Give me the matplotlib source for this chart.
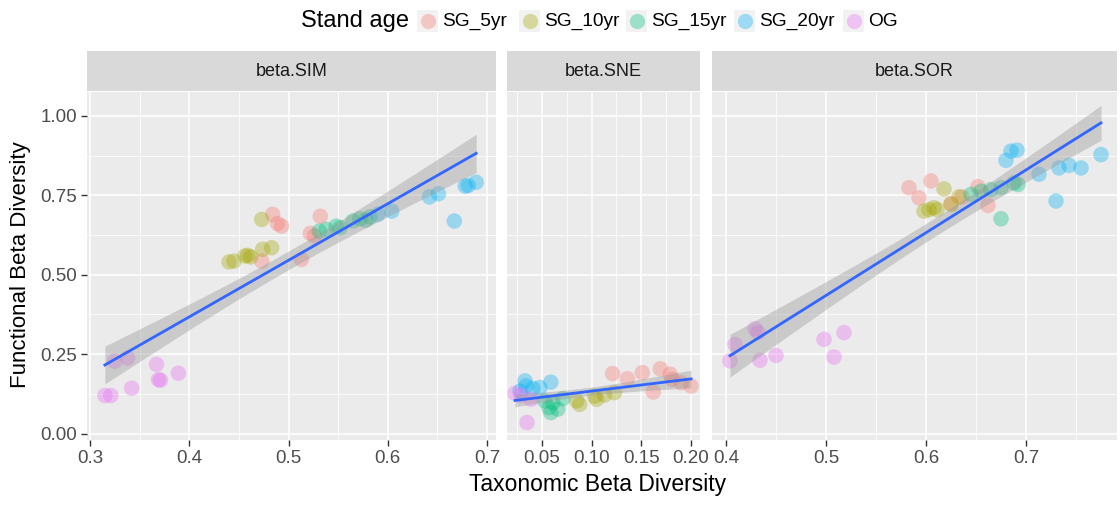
import numpy as np
import matplotlib
matplotlib.use("Agg")
import matplotlib.pyplot as plt
from matplotlib.patches import Rectangle

plt.rcParams['font.family'] = ['Liberation Sans', 'DejaVu Sans']

groups = ["SG_5yr", "SG_10yr", "SG_15yr", "SG_20yr", "OG"]
colors = ["#F8766D", "#A3A500", "#00BF7D", "#00B0F6", "#E76BF3"]
panels = ["beta.SIM", "beta.SNE", "beta.SOR"]

# ---- beta.SIM ----
sim_5yr_x = [0.473, 0.484, 0.489, 0.493, 0.513, 0.522, 0.526, 0.532]
sim_5yr_y = [0.543, 0.690, 0.661, 0.653, 0.548, 0.630, 0.622, 0.684]
sim_10yr_x = [0.440, 0.445, 0.456, 0.459, 0.462, 0.473, 0.474, 0.483]
sim_10yr_y = [0.540, 0.543, 0.559, 0.561, 0.556, 0.674, 0.580, 0.585]
sim_15yr_x = [0.531, 0.538, 0.548, 0.552, 0.565, 0.572, 0.582, 0.578]
sim_15yr_y = [0.637, 0.643, 0.653, 0.648, 0.669, 0.676, 0.682, 0.672]
sim_20yr_x = [0.590, 0.604, 0.642, 0.651, 0.667, 0.678, 0.681, 0.689]
sim_20yr_y = [0.690, 0.700, 0.745, 0.755, 0.669, 0.779, 0.781, 0.791]
sim_og_x = [0.315, 0.321, 0.325, 0.338, 0.342, 0.367, 0.369, 0.371, 0.389]
sim_og_y = [0.120, 0.120, 0.228, 0.238, 0.143, 0.218, 0.170, 0.168, 0.190]

# ---- beta.SNE ----
sne_5yr_x = [0.121, 0.136, 0.151, 0.169, 0.179, 0.162, 0.190, 0.200, 0.181]
sne_5yr_y = [0.189, 0.173, 0.192, 0.204, 0.187, 0.131, 0.160, 0.150, 0.171]
sne_10yr_x = [0.085, 0.088, 0.103, 0.113, 0.123, 0.105]
sne_10yr_y = [0.103, 0.092, 0.118, 0.121, 0.129, 0.108]
sne_15yr_x = [0.057, 0.061, 0.066, 0.059, 0.053, 0.071]
sne_15yr_y = [0.082, 0.097, 0.077, 0.066, 0.103, 0.110]
sne_20yr_x = [0.033, 0.059, 0.041, 0.048, 0.028, 0.034]
sne_20yr_y = [0.166, 0.162, 0.142, 0.145, 0.134, 0.150]
sne_og_x = [0.023, 0.035, 0.039, 0.029]
sne_og_y = [0.127, 0.035, 0.108, 0.121]

# ---- beta.SOR ----
sor_5yr_x = [0.583, 0.593, 0.605, 0.662, 0.652, 0.636, 0.625]
sor_5yr_y = [0.774, 0.742, 0.795, 0.718, 0.777, 0.745, 0.724]
sor_10yr_x = [0.618, 0.598, 0.603, 0.608, 0.611, 0.625, 0.633]
sor_10yr_y = [0.770, 0.700, 0.705, 0.711, 0.705, 0.721, 0.745]
sor_15yr_x = [0.675, 0.645, 0.655, 0.665, 0.675, 0.688, 0.692]
sor_15yr_y = [0.676, 0.753, 0.763, 0.768, 0.774, 0.789, 0.784]
sor_20yr_x = [0.680, 0.685, 0.691, 0.713, 0.733, 0.743, 0.755, 0.775, 0.730]
sor_20yr_y = [0.860, 0.889, 0.892, 0.816, 0.836, 0.844, 0.836, 0.878, 0.732]
sor_og_x = [0.404, 0.409, 0.429, 0.432, 0.434, 0.450, 0.498, 0.508, 0.518]
sor_og_y = [0.229, 0.281, 0.330, 0.318, 0.231, 0.246, 0.297, 0.241, 0.318]

data = {
    "beta.SIM": [(sim_5yr_x, sim_5yr_y), (sim_10yr_x, sim_10yr_y), (sim_15yr_x, sim_15yr_y),
                 (sim_20yr_x, sim_20yr_y), (sim_og_x, sim_og_y)],
    "beta.SNE": [(sne_5yr_x, sne_5yr_y), (sne_10yr_x, sne_10yr_y), (sne_15yr_x, sne_15yr_y),
                 (sne_20yr_x, sne_20yr_y), (sne_og_x, sne_og_y)],
    "beta.SOR": [(sor_5yr_x, sor_5yr_y), (sor_10yr_x, sor_10yr_y), (sor_15yr_x, sor_15yr_y),
                 (sor_20yr_x, sor_20yr_y), (sor_og_x, sor_og_y)],
}

xticks = {"beta.SIM": [0.3, 0.4, 0.5, 0.6, 0.7],
          "beta.SNE": [0.05, 0.10, 0.15, 0.20],
          "beta.SOR": [0.4, 0.5, 0.6, 0.7]}
xticklabels = {"beta.SIM": ["0.3", "0.4", "0.5", "0.6", "0.7"],
               "beta.SNE": ["0.05", "0.10", "0.15", "0.20"],
               "beta.SOR": ["0.4", "0.5", "0.6", "0.7"]}
xlims = {"beta.SIM": (0.297, 0.709), "beta.SNE": (0.0149, 0.209), "beta.SOR": (0.386, 0.791)}
yticks = [0.00, 0.25, 0.50, 0.75, 1.00]
yticklabels = ["0.00", "0.25", "0.50", "0.75", "1.00"]

W, H = 1120, 505
fig = plt.figure(figsize=(W / 100, H / 100), dpi=100)
fig.patch.set_facecolor("white")

def rect(x0, y0, x1, y1):
    return [x0 / W, 1 - y1 / H, (x1 - x0) / W, (y1 - y0) / H]

panel_px = {"beta.SIM": (87, 496), "beta.SNE": (507, 700), "beta.SOR": (712, 1117)}
top, bottom = 92, 440
strip_top = 51

def tq(df):
    z = 1.959964
    return z + (z**3 + z) / (4 * df) + (5 * z**5 + 16 * z**3 + 3 * z) / (96 * df**2)

for i, p in enumerate(panels):
    x0, x1 = panel_px[p]
    ax = fig.add_axes(rect(x0, top, x1, bottom))
    ax.set_facecolor("#EBEBEB")
    for s in ax.spines.values():
        s.set_visible(False)
    xt = xticks[p]
    step = xt[1] - xt[0]
    minor_x = [xt[0] - step / 2] + [t + step / 2 for t in xt]
    ax.set_xticks(xt)
    ax.set_xticks(minor_x, minor=True)
    ax.set_yticks(yticks)
    ax.set_yticks([0.125, 0.375, 0.625, 0.875], minor=True)
    ax.set_xlim(*xlims[p])
    ax.set_ylim(-0.02, 1.075)
    ax.grid(which="major", color="white", lw=1.1)
    ax.grid(which="minor", color="white", lw=0.55)
    ax.set_axisbelow(True)
    ax.set_xticklabels(xticklabels[p], fontsize=13.5, color="#4D4D4D")
    ax.tick_params(axis="both", which="major", length=4, width=1.0, color="#333333", pad=3)
    ax.tick_params(which="minor", length=0)
    if i == 0:
        ax.set_yticklabels(yticklabels, fontsize=13.5, color="#4D4D4D")
    else:
        ax.tick_params(axis="y", length=0, labelleft=False)

    allx, ally = [], []
    for (gx, gy), c in zip(data[p], colors):
        ax.scatter(gx, gy, s=125, color=c, alpha=0.35, edgecolors="none", zorder=3)
        allx += gx
        ally += gy
    allx = np.array(allx)
    ally = np.array(ally)
    n = len(allx)
    b, a = np.polyfit(allx, ally, 1)
    resid = ally - (a + b * allx)
    s = np.sqrt(np.sum(resid**2) / (n - 2))
    xm = allx.mean()
    sxx = np.sum((allx - xm) ** 2)
    xs = np.linspace(allx.min(), allx.max(), 80)
    yfit = a + b * xs
    se = s * np.sqrt(1 / n + (xs - xm) ** 2 / sxx)
    t = tq(n - 2)
    ax.fill_between(xs, yfit - t * se, yfit + t * se, color="#999999", alpha=0.4, lw=0, zorder=4)
    ax.plot(xs, yfit, color="#3366FF", lw=2.0, zorder=5)

    # strip
    sax = fig.add_axes(rect(x0, strip_top, x1, top - 1))
    sax.set_facecolor("#D9D9D9")
    sax.set_xticks([]); sax.set_yticks([])
    for sp in sax.spines.values():
        sp.set_visible(False)
    sax.text(0.5, 0.5, p, ha="center", va="center", fontsize=13, color="#1A1A1A",
             transform=sax.transAxes)

# axis titles
fig.text(598 / W, 1 - 484 / H, "Taxonomic Beta Diversity", ha="center", va="center",
         fontsize=16.5, color="black")
fig.text(21 / W, 1 - 265 / H, "Functional Beta Diversity", ha="center", va="center",
         fontsize=16, color="black", rotation=90)

# legend
ly = 21
fig.text(301 / W, 1 - ly / H, "Stand age", ha="left", va="center", fontsize=17, color="black")
key_x = [417, 519, 626, 734, 843]
for kx, g, c in zip(key_x, groups, colors):
    fig.patches.append(Rectangle((kx / W, 1 - (ly + 11) / H), 21 / W, 22 / H,
                                 transform=fig.transFigure, facecolor="#F2F2F2",
                                 edgecolor="none"))
    fig.add_artist(plt.Line2D([(kx + 10.5) / W], [1 - ly / H], marker="o", markersize=11,
                              color=c, alpha=0.35, markeredgewidth=0, linestyle="none",
                              transform=fig.transFigure))
    fig.text((kx + 25) / W, 1 - ly / H, g, ha="left", va="center", fontsize=13.8, color="black")

fig.savefig("out.png", dpi=100, facecolor="white")
